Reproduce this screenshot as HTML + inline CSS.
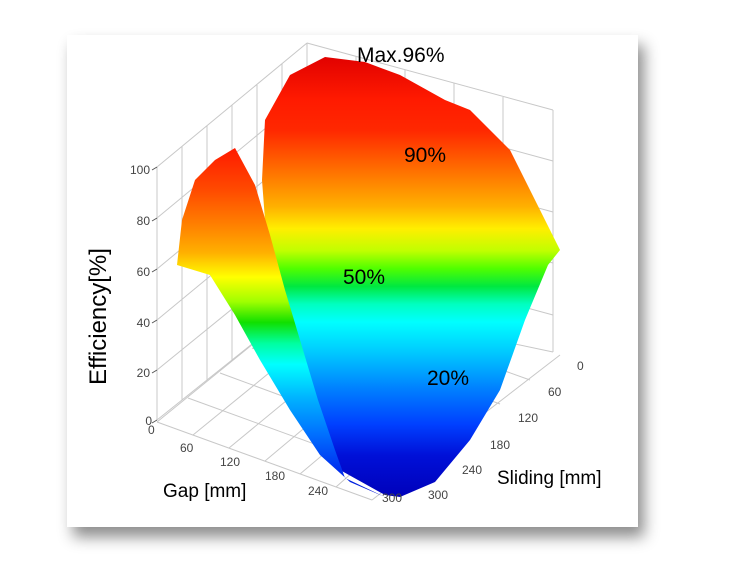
<!DOCTYPE html>
<html><head><style>
body{margin:0;background:#fff;width:729px;height:587px;overflow:hidden;}
.card{position:absolute;left:67px;top:35px;width:571px;height:492px;background:#fff;box-shadow:6px 10px 14px rgba(0,0,0,0.45);}
svg{position:absolute;left:0;top:0;}
text{font-family:"Liberation Sans",sans-serif;}
</style></head><body>
<div class="card"></div>
<svg width="729" height="587" viewBox="0 0 729 587">
<defs>
<linearGradient id="gm" x1="0" y1="55" x2="0" y2="500" gradientUnits="userSpaceOnUse">
<stop offset="0" stop-color="#e00000"/><stop offset="0.10" stop-color="#ff1a00"/>
<stop offset="0.17" stop-color="#ff2800"/><stop offset="0.22" stop-color="#ff5000"/>
<stop offset="0.28" stop-color="#ff8000"/><stop offset="0.34" stop-color="#ffb000"/>
<stop offset="0.39" stop-color="#ffee00"/><stop offset="0.44" stop-color="#c0ff00"/>
<stop offset="0.48" stop-color="#50ff00"/><stop offset="0.52" stop-color="#00e840"/>
<stop offset="0.56" stop-color="#00ffc0"/><stop offset="0.60" stop-color="#00ffff"/>
<stop offset="0.67" stop-color="#00c8ff"/><stop offset="0.75" stop-color="#0080ff"/>
<stop offset="0.83" stop-color="#0040ff"/><stop offset="0.90" stop-color="#0010d8"/>
<stop offset="1" stop-color="#0000b8"/>
</linearGradient>
<linearGradient id="gr" x1="0" y1="148" x2="0" y2="497" gradientUnits="userSpaceOnUse">
<stop offset="0" stop-color="#ff1a00"/><stop offset="0.12" stop-color="#ff4a00"/>
<stop offset="0.22" stop-color="#ff8000"/><stop offset="0.30" stop-color="#ffb000"/>
<stop offset="0.37" stop-color="#ffff00"/><stop offset="0.44" stop-color="#a0ff00"/>
<stop offset="0.50" stop-color="#10e000"/><stop offset="0.56" stop-color="#00ffa0"/>
<stop offset="0.62" stop-color="#00ffff"/><stop offset="0.72" stop-color="#00b0ff"/>
<stop offset="0.82" stop-color="#0070ff"/><stop offset="0.92" stop-color="#0030f0"/>
<stop offset="1" stop-color="#0010d0"/>
</linearGradient>
</defs>
<g stroke="#c8c8c8" stroke-width="1" fill="none">
<path d="M157,167 L307,43 M157,420 L307,300 M157,218 L307,94 M157,269 L307,145 M157,320 L307,196 M157,370 L307,248"/>
<path d="M182,146 L182,400 M207,126 L207,380 M232,105 L232,360 M257,85 L257,340 M282,64 L282,320 M307,43 L307,300 M157,167 L157,420"/>
<path d="M307,43 L553,110 M307,94 L553,161 M307,145 L553,212 M307,196 L553,263 M307,248 L553,315 M307,300 L553,352"/>
<path d="M356,56 L356,310 M405,70 L405,320 M454,83 L454,330 M503,97 L503,340 M553,110 L553,352"/>
<path d="M157,422 L307,300 M157,422 L372,500 M372,500 L560,355 M193,435 L345,311 M229,448 L383,321 M265,461 L420,331 M300,474 L458,341 M336,487 L496,345"/>
<path d="M188,398 L405,477 M220,373 L437,453 M252,348 L469,428 M283,324 L500,404 M307,300 L530,380"/>
</g>
<polygon fill="url(#gm)" points="265,120 290,75 325,57 365,62 400,75 445,100 470,110 510,150 535,200 560,250 548,265 525,320 500,390 470,440 435,482 400,497 385,495 340,470 320,440 310,400 290,330 268,260 262,180"/>
<polygon fill="url(#gr)" points="177,265 182,220 195,180 215,160 235,148 255,185 270,235 285,290 300,340 318,400 335,450 345,478 385,497 350,482 320,455 290,410 260,360 235,315 210,275"/>
<g stroke="#555" stroke-width="1"><path d="M152,170 L157,167 M152,221 L157,218 M152,272 L157,269 M152,323 L157,320 M152,373 L157,370 M152,423 L157,420"/></g>
<g font-size="12" fill="#444">
<text x="150" y="174" text-anchor="end">100</text><text x="150" y="225" text-anchor="end">80</text>
<text x="150" y="276" text-anchor="end">60</text><text x="150" y="327" text-anchor="end">40</text>
<text x="150" y="377" text-anchor="end">20</text><text x="152" y="425" text-anchor="end">0</text>
<text x="148" y="434">0</text><text x="180" y="452">60</text><text x="220" y="466">120</text>
<text x="265" y="480">180</text><text x="308" y="495">240</text><text x="382" y="502">300</text>
<text x="577" y="370">0</text><text x="548" y="396">60</text><text x="518" y="422">120</text>
<text x="490" y="449">180</text><text x="462" y="474">240</text><text x="428" y="499">300</text>
</g>
<text x="0" y="0" font-size="24" fill="#000" transform="translate(106,385) rotate(-90)">Efficiency[%]</text>
<text x="163" y="497" font-size="19">Gap [mm]</text>
<text x="497" y="484" font-size="19">Sliding [mm]</text>
<text x="357" y="62" font-size="21">Max.96%</text>
<text x="404" y="162" font-size="21">90%</text>
<text x="343" y="284" font-size="21">50%</text>
<text x="427" y="385" font-size="21">20%</text>
</svg>
</body></html>
